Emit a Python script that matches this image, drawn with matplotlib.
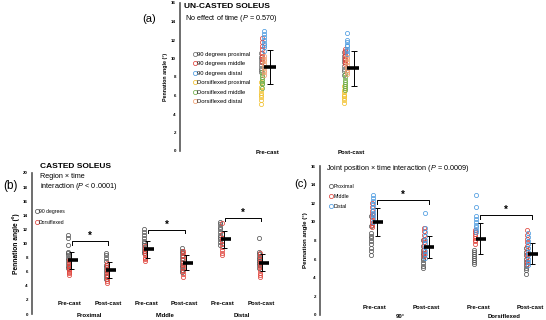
import numpy as np
import matplotlib
matplotlib.use("Agg")
import matplotlib.pyplot as plt
from matplotlib.lines import Line2D

plt.rcParams['font.family'] = ['Liberation Sans', 'DejaVu Sans']
plt.rcParams['mathtext.fontset'] = 'custom'
plt.rcParams['mathtext.rm'] = 'Liberation Sans'
plt.rcParams['mathtext.it'] = 'Liberation Sans:italic'

W, H = 546, 320

# ---- data (a): un-casted soleus ----
a_times = ["Pre-cast", "Post-cast"]
a_labels = ["90 degrees proximal", "90 degrees middle", "90 degrees distal",
            "Dorsiflexed proximal", "Dorsiflexed middle", "Dorsiflexed distal"]
a_pre = [
    [10.6, 10.2, 9.9, 9.6, 9.3, 9.0, 8.8, 8.5],
    [12.2, 11.8, 11.4, 11.0, 10.6, 10.3, 10.0, 9.6],
    [13.0, 12.6, 12.3, 12.0, 11.7, 11.5, 11.2, 10.8],
    [7.5, 6.9, 6.6, 6.3, 6.1, 5.8, 5.5, 5.1],
    [8.5, 8.2, 8.0, 7.8, 7.6, 7.4, 7.2, 6.8],
    [10.3, 10.0, 9.7, 9.4, 9.1, 8.8, 8.5, 8.2],
]
a_post = [
    [10.7, 10.3, 10.0, 9.6, 9.2, 8.9, 8.6, 8.2],
    [11.0, 10.8, 10.5, 10.3, 10.0, 9.8, 9.6, 9.4],
    [12.8, 12.0, 11.8, 11.5, 11.3, 11.0, 10.8, 10.5],
    [7.0, 6.6, 6.4, 6.1, 5.9, 5.7, 5.5, 5.2],
    [8.3, 8.0, 7.7, 7.5, 7.2, 7.0, 6.8, 6.6],
    [10.2, 9.9, 9.6, 9.3, 9.0, 8.8, 8.5, 8.3],
]
a_mean = [9.05, 8.95]
a_sd = [1.85, 1.9]

# ---- data (b): casted soleus, region x time ----
b_times = ["Pre-cast", "Post-cast"] * 3
b_regions = ["Proximal", "Middle", "Distal"]
b_labels = ["90 degrees", "Dorsiflexed"]
b_90 = [
    [11.2, 10.8, 9.8, 8.8, 8.6, 8.3, 8.0, 7.6, 7.2, 6.8, 6.5],
    [8.6, 8.3, 7.9, 7.5, 7.0, 6.6, 6.2, 5.8, 5.4, 5.0],
    [12.0, 11.6, 11.2, 10.8, 10.4, 10.1, 9.8, 9.4, 9.0, 8.6],
    [9.3, 9.0, 8.6, 8.2, 7.8, 7.4, 7.0, 6.6, 6.2, 5.9],
    [13.1, 12.8, 12.4, 12.0, 11.6, 11.2, 10.9, 10.6, 10.2, 9.8],
    [10.8, 8.8, 8.5, 8.1, 7.8, 7.5, 7.2, 6.9, 6.5],
]
b_df = [
    [7.6, 7.3, 7.0, 6.8, 6.6, 6.4, 6.2, 6.0, 5.8, 5.5],
    [7.3, 7.0, 6.6, 6.2, 5.9, 5.6, 5.3, 5.0, 4.7, 4.4],
    [9.6, 9.2, 8.9, 8.6, 8.3, 8.0, 7.8, 7.5],
    [9.0, 8.6, 8.2, 7.8, 7.3, 6.9, 6.5, 6.1, 5.7, 5.3],
    [12.9, 11.4, 10.8, 10.3, 9.9, 9.5, 9.1, 8.7, 8.3],
    [8.6, 8.2, 7.8, 7.4, 7.0, 6.6, 6.2, 5.8, 5.5, 5.2],
]
b_mean = [7.6, 6.2, 9.2, 7.3, 10.6, 7.3]
b_sd = [1.25, 1.15, 1.2, 1.1, 1.2, 1.15]
b_bracket = [10.3, 11.9, 13.6]

# ---- data (c): casted soleus, joint position x time ----
c_times = ["Pre-cast", "Post-cast"] * 2
c_positions = ["90\u00b0", "Dorsiflexed"]
c_labels = ["Proximal", "Middle", "Distal"]
c_prox = [
    [10.6, 9.6, 8.8, 8.5, 8.3, 8.0, 7.6, 7.2, 6.9, 6.4],
    [8.1, 7.4, 7.0, 6.7, 6.4, 6.1, 5.9, 5.6, 5.3, 5.0],
    [7.0, 6.8, 6.5, 6.3, 6.1, 5.9, 5.7, 5.5],
    [7.2, 6.8, 6.4, 6.0, 5.7, 5.4, 5.1, 4.8, 4.4],
]
c_mid = [
    [12.0, 11.6, 11.2, 10.8, 10.5, 10.2, 9.9, 9.7, 9.5],
    [9.3, 9.0, 8.6, 8.2, 7.8, 7.4, 7.0, 6.7, 6.3],
    [9.1, 8.9, 8.7, 8.5, 8.3, 8.1, 7.9, 7.6],
    [9.1, 8.6, 8.2, 7.8, 7.4, 7.0, 6.6, 6.2, 5.8, 5.5],
]
c_dist = [
    [12.9, 12.6, 12.2, 11.9, 11.6, 11.3, 11.0, 10.7, 10.4, 10.0],
    [10.9, 9.3, 8.9, 8.5, 8.1, 7.7, 7.3, 6.9, 6.5, 6.1],
    [12.9, 11.6, 10.6, 10.3, 10.0, 9.7, 9.4, 9.1, 8.9],
    [8.8, 8.4, 8.0, 7.6, 7.2, 6.8, 6.4, 6.0, 5.7, 5.4],
]
c_mean = [9.95, 7.3, 8.2, 6.6]
c_sd = [1.5, 1.2, 1.7, 1.1]
c_bracket = [12.3, 10.7]

GRAY = '#6e6e6e'
RED = '#e0443c'
BLUE = '#4c9be0'
a_colors = [GRAY, RED, BLUE, '#f2c12e', '#70ad47', '#f0a070']


def px_axes(fig, left, top, right, bottom):
    return fig.add_axes([left / W, 1 - bottom / H, (right - left) / W, (bottom - top) / H])


def style_axis(ax, ymax, label_size):
    ax.set_ylim(0, ymax)
    ax.set_yticks(np.arange(0, ymax + 1, 2))
    ax.tick_params(axis='y', length=0, pad=3, labelsize=3.2)
    for t in ax.get_yticklabels():
        t.set_fontweight('bold')
    ax.tick_params(axis='x', length=0)
    for s in ['top', 'right', 'bottom']:
        ax.spines[s].set_visible(False)
    ax.spines['left'].set_color('#555555')
    ax.spines['left'].set_linewidth(1.2)
    ax.set_ylabel("Pennation angle (\u00b0)", fontsize=label_size, fontweight='bold', labelpad=2)
    ax.patch.set_alpha(0)


def draw_summary(ax, xs, mean, sd, err_off, bar_off, bar_ms, capsize):
    xs = np.asarray(xs, dtype=float)
    ax.errorbar(xs + err_off, mean, yerr=sd, fmt='none', ecolor='black',
                elinewidth=0.7, capsize=capsize, capthick=0.7, zorder=4)
    ax.plot(xs + bar_off, mean, ls='none', marker='_', ms=bar_ms, mew=2.6,
            color='black', zorder=5)


def draw_bracket(ax, x1, x2, y, drop):
    ax.plot([x1, x1, x2, x2], [y - drop, y, y, y - drop], color='black', lw=0.7)
    ax.text((x1 + x2) / 2, y + 0.05, "*", ha='center', va='bottom',
            fontsize=7, fontweight='bold')


def scatter_col(ax, x, vals, color):
    ax.plot(np.full(len(vals), x), vals, ls='none', marker='o', ms=3.0,
            mfc='none', mec=color, mew=0.55, zorder=3)


fig = plt.figure(figsize=(W / 100, H / 100), dpi=100)

# ---------------- panel (a) ----------------
axa = px_axes(fig, 180, 3, 400, 151)
style_axis(axa, 16, 3.8)
axa.set_xlim(-0.06, 2.59)
a_offsets = [-0.08, -0.07, -0.05, -0.08, -0.07, -0.05]
for i, col in enumerate(a_colors):
    scatter_col(axa, 1 + a_offsets[i], a_pre[i], col)
    scatter_col(axa, 2 + a_offsets[i], a_post[i], col)
draw_summary(axa, [1, 2], a_mean, a_sd, 0.03, 0.02, 8, 2.2)
axa.set_xticks([1, 2])
axa.set_xticklabels(a_times, fontsize=4.3, fontweight='bold')
axa.tick_params(axis='x', pad=-1)
handles = [Line2D([], [], ls='none', marker='o', ms=3.0, mfc='none', mec=c, mew=0.55)
           for c in a_colors]
axa.legend(handles, a_labels, loc='upper left', bbox_to_anchor=(190 / W, 1 - 49 / H),
           bbox_transform=fig.transFigure, frameon=False, fontsize=4.2,
           handlelength=0.6, handletextpad=0.1, labelspacing=0.75, borderpad=0)
fig.text(184 / W, 1 - 7 / H, "UN-CASTED SOLEUS", fontsize=6, fontweight='bold', va='center')
fig.text(185 / W, 1 - 19 / H, "No effect of time ($\\mathit{P}$ = 0.570)", fontsize=5.2, va='center')
fig.text(142 / W, 1 - 19 / H, "(a)", fontsize=8, va='center')

# ---------------- panel (b) ----------------
axb = px_axes(fig, 32, 173, 275, 314)
style_axis(axb, 20, 4.8)
axb.set_xlim(0.005, 6.37)
bx = np.arange(1, 7)
for i in range(6):
    scatter_col(axb, bx[i] - 0.06, b_90[i], '#555555')
    scatter_col(axb, bx[i] - 0.03, b_df[i], RED)
draw_summary(axb, bx, b_mean, b_sd, 0.03, 0.08, 7, 1.8)
axb.set_xticks(bx)
axb.set_xticklabels(b_times, fontsize=4.3, fontweight='bold')
axb.tick_params(axis='x', pad=-9.5)
for k, reg in enumerate(b_regions):
    axb.text(bx[2 * k] + 0.5, -0.014, reg, transform=axb.get_xaxis_transform(),
             ha='center', va='center', fontsize=4.3, fontweight='bold')
    draw_bracket(axb, bx[2 * k] + 0.05, bx[2 * k + 1], b_bracket[k], 0.45)
handles = [Line2D([], [], ls='none', marker='o', ms=3.0, mfc='none', mec=c, mew=0.55)
           for c in ['#555555', RED]]
axb.legend(handles, b_labels, loc='upper left', bbox_to_anchor=(33 / W, 1 - 206 / H),
           bbox_transform=fig.transFigure, frameon=False, fontsize=3.6,
           handlelength=0.6, handletextpad=0.1, labelspacing=1.2, borderpad=0)
fig.text(40 / W, 1 - 167 / H, "CASTED SOLEUS", fontsize=6, fontweight='bold', va='center')
fig.text(40 / W, 1 - 177 / H, "Region \u00d7 time", fontsize=5.2, va='center')
fig.text(40 / W, 1 - 187 / H, "interaction ($\\mathit{P}$ < 0.0001)", fontsize=5.2, va='center')
fig.text(3 / W, 1 - 186 / H, "(b)", fontsize=8.5, va='center')

# ---------------- panel (c) ----------------
axc = px_axes(fig, 320, 166, 546, 315)
style_axis(axc, 16, 4.4)
axc.set_xlim(-0.064, 4.31)
cx = np.arange(1, 5)
for i in range(4):
    scatter_col(axc, cx[i] - 0.08, c_prox[i], '#555555')
    scatter_col(axc, cx[i] - 0.06, c_mid[i], RED)
    scatter_col(axc, cx[i] - 0.04, c_dist[i], BLUE)
draw_summary(axc, cx, c_mean, c_sd, 0.04, 0.05, 7, 1.8)
axc.set_xticks(cx)
axc.set_xticklabels(c_times, fontsize=4.3, fontweight='bold')
axc.tick_params(axis='x', pad=-7.5)
for k, pos in enumerate(c_positions):
    axc.text(cx[2 * k] + 0.5, -0.007, pos, transform=axc.get_xaxis_transform(),
             ha='center', va='center', fontsize=4.3, fontweight='bold')
    draw_bracket(axc, cx[2 * k] + 0.04, cx[2 * k + 1] + 0.04, c_bracket[k], 0.35)
handles = [Line2D([], [], ls='none', marker='o', ms=3.0, mfc='none', mec=c, mew=0.55)
           for c in ['#555555', RED, BLUE]]
axc.legend(handles, c_labels, loc='upper left', bbox_to_anchor=(327 / W, 1 - 181 / H),
           bbox_transform=fig.transFigure, frameon=False, fontsize=3.8,
           handlelength=0.6, handletextpad=0.1, labelspacing=1.0, borderpad=0)
fig.text(326 / W, 1 - 169 / H, "Joint position \u00d7 time interaction ($\\mathit{P}$ = 0.0009)",
         fontsize=5.2, va='center')
fig.text(294 / W, 1 - 184 / H, "(c)", fontsize=8, va='center')

fig.savefig("out.png", dpi=100)
